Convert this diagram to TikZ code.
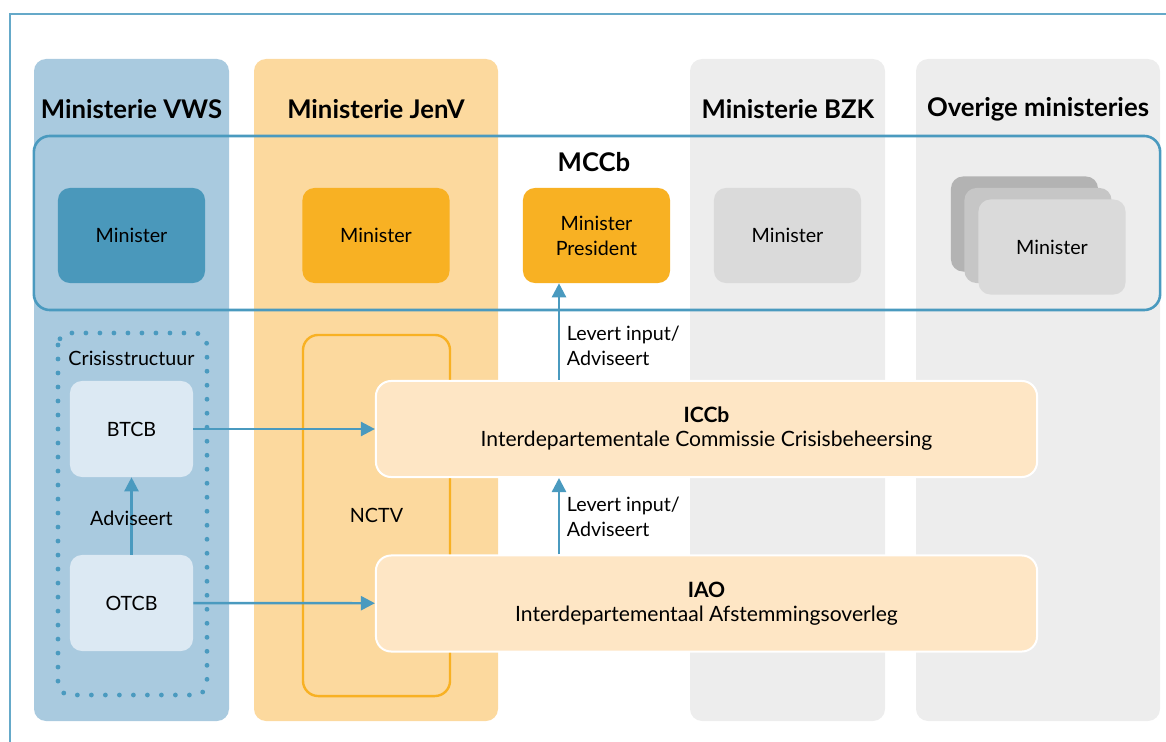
\documentclass[tikz,border=0pt]{standalone}
\usepackage{fontspec}
\setmainfont{Lato}
\usetikzlibrary{arrows.meta}
\usetikzlibrary{positioning}

\definecolor{vwsblue}{HTML}{A9CADF}
\definecolor{vwsdark}{HTML}{4A98BB}
\definecolor{lineblue}{HTML}{4A9ABF}
\definecolor{jenvorange}{HTML}{FCD99E}
\definecolor{mporange}{HTML}{F8B123}
\definecolor{paleorange}{HTML}{FEE6C5}
\definecolor{greycol}{HTML}{EDEDED}
\definecolor{greybox}{HTML}{DADADA}
\definecolor{greymid}{HTML}{C6C6C6}
\definecolor{greyback}{HTML}{B3B3B3}
\definecolor{paleblue}{HTML}{DCE9F3}

\tikzset{
  column/.style={rounded corners=0.3cm},
  header/.style={font=\fontsize{18.3}{22}\selectfont\bfseries, text=black},
  ministerbox/.style={rounded corners=0.3cm, minimum width=3.675cm, minimum height=2.375cm,
    align=center, font=\fontsize{14}{17.7}\selectfont},
  crisisbox/.style={rounded corners=0.3cm, fill=paleblue, minimum width=3.075cm, minimum height=2.4cm,
    font=\fontsize{14}{17.7}\selectfont},
  overleg/.style={rounded corners=0.38cm, fill=paleorange, draw=white, line width=0.05cm,
    minimum width=16.525cm, minimum height=2.4cm, align=center, font=\fontsize{15}{17}\selectfont},
  flow/.style={-{Triangle[length=0.35cm,width=0.35cm]}, line width=0.06cm, lineblue},
  flowlabel/.style={font=\fontsize{14}{17.7}\selectfont, align=left}
}

\begin{document}
\begin{tikzpicture}[x=0.025cm, y=-0.025cm]
  \useasboundingbox (0,0) rectangle (1166,742);
  % outer frame
  \draw[lineblue!85, line width=0.035cm] (10,742) -- (10,14) -- (1166,14);

  % ministerie columns
  \fill[column, vwsblue] (34,59) rectangle (229,721);
  \fill[column, jenvorange] (254,59) rectangle (498,721);
  \fill[column, greycol] (690,59) rectangle (885,721);
  \fill[column, greycol] (916,59) rectangle (1160,721);

  \node[header] (hvws) at (131.5,109) {Ministerie VWS};
  \node[header] (hjenv) at (376,109) {Ministerie JenV};
  \node[header] (hbzk) at (788,109) {Ministerie BZK};
  \node[header] (hoverig) at (1038,109) {Overige ministeries};

  % MCCb
  \node[draw=lineblue, line width=0.065cm, rounded corners=0.4cm, minimum width=28.15cm,
    minimum height=4.35cm] (mccb) at (597,223) {};
  \node[header] (mccbtitle) at (594,162) {MCCb};

  \node[ministerbox, fill=vwsdark] (minvws) at (131.5,235.5) {Minister};
  \node[ministerbox, fill=mporange] (minjenv) at (376,235.5) {Minister};
  \node[ministerbox, fill=mporange] (mp) at (596.5,235.5) {Minister\\President};
  \node[ministerbox, fill=greybox] (minbzk) at (787.5,235.5) {Minister};
  \node[ministerbox, fill=greyback] (minback) at (1024.5,224) {};
  \node[ministerbox, fill=greymid] (minmid) at (1038,235.5) {};
  \node[ministerbox, fill=greybox] (minover) at (1052,247) {Minister};

  % crisisstructuur VWS
  \draw[lineblue, line width=0.12cm, line cap=round, dash pattern=on 0pt off 0.35cm,
    rounded corners=0.3cm] (58,333) rectangle (207,695);
  \node[flowlabel] (crisislabel) at (131.5,358) {Crisisstructuur};
  \node[crisisbox] (btcb) at (131.5,429) {BTCB};
  \node[crisisbox] (otcb) at (131.5,603) {OTCB};
  \draw[flow] (otcb) -- (btcb);
  \node[flowlabel] (advlabel) at (131.5,518) {Adviseert};

  % NCTV
  \node[draw=mporange, line width=0.06cm, rounded corners=0.38cm, minimum width=3.675cm,
    minimum height=9.025cm, font=\fontsize{14}{17}\selectfont] (nctv) at (376.5,515.5) {NCTV};

  % ICCb en IAO
  \node[overleg] (iccb) at (706.5,429) {\textbf{ICCb}\\Interdepartementale Commissie Crisisbeheersing};
  \node[overleg] (iao) at (706.5,603.5) {\textbf{IAO}\\Interdepartementaal Afstemmingsoverleg};

  \coordinate (upline) at (559,0);
  \draw[flow] (btcb) -- (iccb);
  \draw[flow] (otcb) -- (iao);
  \draw[flow] (iao.north -| upline) -- (iccb.south -| upline);
  \draw[flow] (iccb.north -| upline) -- (mp.south -| upline);
  \node[flowlabel, anchor=west] (input1) at (562,346) {Levert input/\\Adviseert};
  \node[flowlabel, anchor=west] (input2) at (562,517) {Levert input/\\Adviseert};
\end{tikzpicture}
\end{document}
